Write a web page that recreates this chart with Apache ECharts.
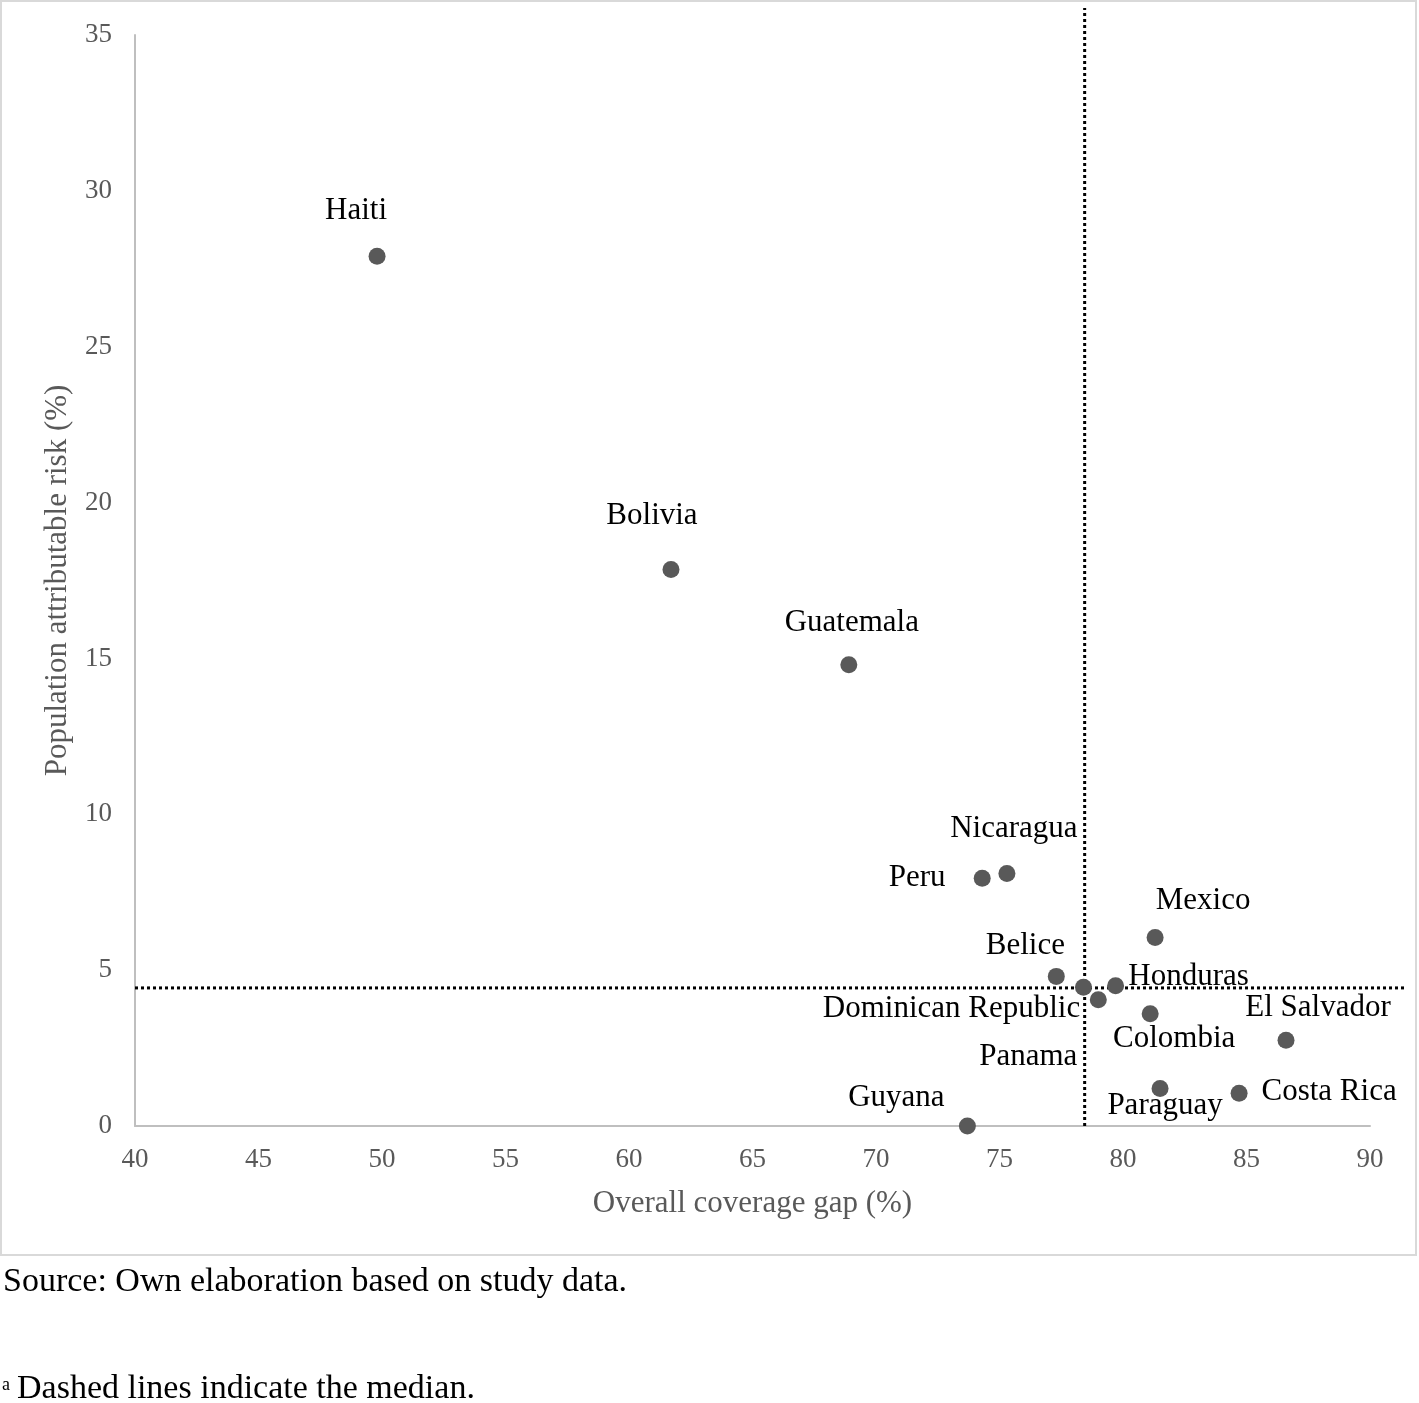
<!DOCTYPE html>
<html><head><meta charset="utf-8">
<script src="https://cdn.jsdelivr.net/npm/echarts@6/dist/echarts.min.js"></script>
<style>html,body{margin:0;padding:0;background:#fff}#c{width:1419px;height:1403px}</style>
</head><body><div id="c"></div>
<script>
const countries = ["Haiti","Bolivia","Guatemala","Nicaragua","Peru","Mexico","Belice","Honduras","Dominican Republic","Panama","Colombia","El Salvador","Paraguay","Costa Rica","Guyana"];
const coverageGap = [49.8,61.7,68.9,75.3,74.3,81.3,77.3,79.7,78.4,79.0,81.1,86.6,81.5,84.7,73.7];
const attributableRisk = [27.9,17.85,14.8,8.1,7.95,6.05,4.8,4.5,4.45,4.05,3.6,2.75,1.2,1.05,0.0];
const medianX = 78.45;
const medianY = 4.43;
const xTicks = [40,45,50,55,60,65,70,75,80,85,90];
const yTicks = [0,5,10,15,20,25,30,35];

// label offsets (styling, not data)
const labelOffsets = {
  "Haiti":[-21,-45],"Bolivia":[-19,-54],"Guatemala":[3,-42],"Nicaragua":[7,-45],"Peru":[-65,0],
  "Mexico":[48,-37],"Belice":[-31,-31],"Honduras":[73,-9],"Dominican Republic":[-132,22],
  "Panama":[-70,57],"Colombia":[24,25],"El Salvador":[32,-32],"Paraguay":[5,17],
  "Costa Rica":[90,-1],"Guyana":[-71,-28]
};

const FONT = "Liberation Serif";
const chart = echarts.init(document.getElementById('c'), null, {renderer:'canvas'});
const pts = countries.map((n,i)=>({name:n,value:[coverageGap[i],attributableRisk[i]],
  label:{offset:labelOffsets[n]}}));

chart.setOption({
  animation:false,
  textStyle:{fontFamily:FONT},
  graphic:[
    {type:'rect',shape:{x:1,y:1,width:1415,height:1254},style:{fill:null,stroke:'#d9d9d9',lineWidth:2},silent:true},
    {type:'text',left:3,top:1265,style:{text:'Source: Own elaboration based on study data.',font:'34px "Liberation Serif"',fill:'#000'}},
    {type:'text',left:2,top:1376,style:{text:'a',font:'18px "Liberation Serif"',fill:'#000'}},
    {type:'text',left:17,top:1372,style:{text:'Dashed lines indicate the median.',font:'34px "Liberation Serif"',fill:'#000'}}
  ],
  grid:[
    {left:135,right:49,top:35,bottom:277},
    {left:135,right:14,top:8,bottom:277}
  ],
  xAxis:[
    {gridIndex:0,type:'value',min:40,max:90,interval:5,
     axisLine:{show:true,lineStyle:{color:'#bfbfbf',width:2}},axisTick:{show:false},splitLine:{show:false},
     axisLabel:{color:'#595959',fontSize:27,fontFamily:FONT,margin:20},
     name:'Overall coverage gap (%)',nameLocation:'middle',nameGap:62,
     nameTextStyle:{color:'#595959',fontSize:31,fontFamily:FONT}},
    {gridIndex:1,type:'value',min:40,max:91.42,show:false}
  ],
  yAxis:[
    {gridIndex:0,type:'value',min:0,max:35,interval:5,
     axisLine:{show:true,lineStyle:{color:'#bfbfbf',width:2}},axisTick:{show:false},splitLine:{show:false},
     axisLabel:{color:'#595959',fontSize:27,fontFamily:FONT,margin:23},
     name:'Population attributable risk (%)',nameLocation:'middle',nameGap:62,
     nameTextStyle:{color:'#595959',fontSize:31,fontFamily:FONT}},
    {gridIndex:1,type:'value',min:0,max:35.87,show:false}
  ],
  series:[
    {type:'line',xAxisIndex:1,yAxisIndex:1,data:[[medianX,0],[medianX,35.87]],symbol:'none',
     lineStyle:{color:'#000',width:3,type:[3,3]},z:1},
    {type:'line',xAxisIndex:1,yAxisIndex:1,data:[[40,medianY],[91.42,medianY]],symbol:'none',
     lineStyle:{color:'#000',width:3,type:[3,3]},z:1},
    {type:'scatter',xAxisIndex:0,yAxisIndex:0,data:pts,symbolSize:17,
     itemStyle:{color:'#595959',opacity:1},z:3,
     label:{show:true,position:'inside',formatter:'{b}',color:'#000',fontSize:31,fontFamily:FONT}}
  ]
});
</script></body></html>
